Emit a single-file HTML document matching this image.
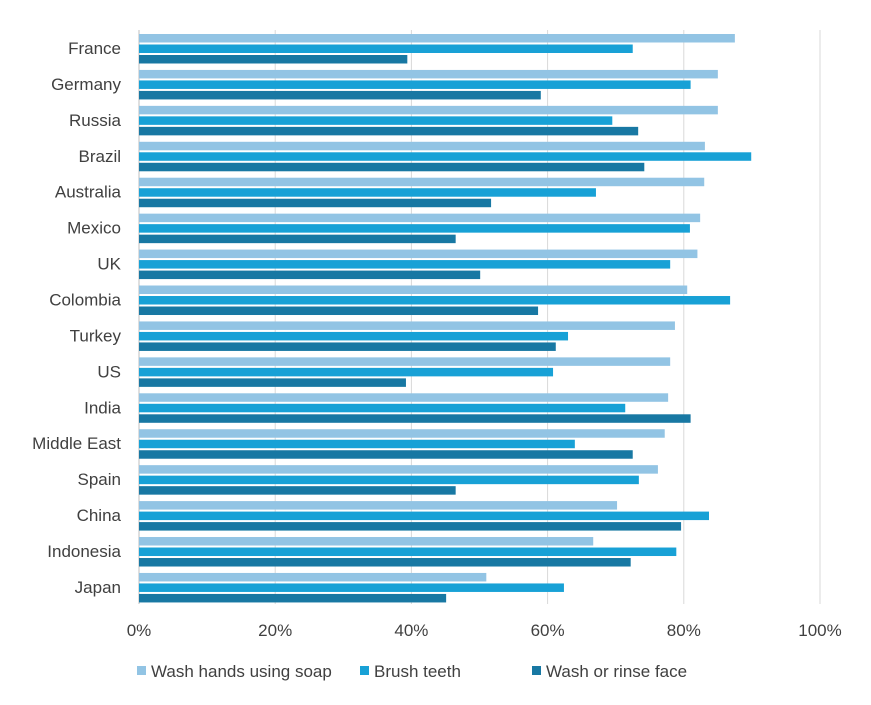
<!DOCTYPE html>
<html><head><meta charset="utf-8">
<style>
body{margin:0;background:#fff;font-family:"Liberation Sans",Arial,sans-serif;}
svg text{font-family:"Liberation Sans",Arial,sans-serif;fill:#404040;}
</style></head>
<body>
<svg id="chart" width="871" height="700"></svg>
<script>
const categories=["France","Germany","Russia","Brazil","Australia","Mexico","UK","Colombia","Turkey","US","India","Middle East","Spain","China","Indonesia","Japan"];
const washHands=[87.5,85,85,83.1,83,82.4,82,80.5,78.7,78,77.7,77.2,76.2,70.2,66.7,51];
const brushTeeth=[72.5,81,69.5,89.9,67.1,80.9,78,86.8,63,60.8,71.4,64,73.4,83.7,78.9,62.4];
const washFace=[39.4,59,73.3,74.2,51.7,46.5,50.1,58.6,61.2,39.2,81,72.5,46.5,79.6,72.2,45.1];
const seriesNames=["Wash hands using soap","Brush teeth","Wash or rinse face"];
const tickValues=[0,20,40,60,80,100];
const tickLabels=["0%","20%","40%","60%","80%","100%"];

const NS="http://www.w3.org/2000/svg";
const svg=document.getElementById("chart");
const colors=["#92c4e4","#18a1d6","#1878a3"];
const x0=139,x1=820,yTop=30,step=35.93;
const xs=v=>x0+(x1-x0)*v/100;
const yc=i=>yTop+18+i*step;
function mk(t,a){const e=document.createElementNS(NS,t);for(const k in a)e.setAttribute(k,a[k]);svg.appendChild(e);return e;}

tickValues.forEach((v,i)=>{
  const g=mk("line",{x1:xs(v),x2:xs(v),y1:yTop,y2:604,stroke:i===0?"#bfbfbf":"#d9d9d9","stroke-width":1});
  
  
  const t=mk("text",{x:xs(v),y:636,"text-anchor":"middle","font-size":17});
  t.textContent=tickLabels[i];
  
  
});

const series=[washHands,brushTeeth,washFace];
categories.forEach((c,i)=>{
  const t=mk("text",{x:121,y:yc(i)+6,"text-anchor":"end","font-size":17});
  t.textContent=c;
  
  
  series.forEach((s,j)=>{
    const r=mk("rect",{x:x0,y:yc(i)-14+j*10.5,width:xs(s[i])-x0,height:8.5,fill:colors[j]});
    
    
  });
});

const legX=[137,360,532];
seriesNames.forEach((n,j)=>{
  const r=mk("rect",{x:legX[j],y:666,width:9,height:9,fill:colors[j]});
  
  
  const t=mk("text",{x:legX[j]+14,y:677,"font-size":17});
  t.textContent=n;
  
  
});
</script>
</body></html>
